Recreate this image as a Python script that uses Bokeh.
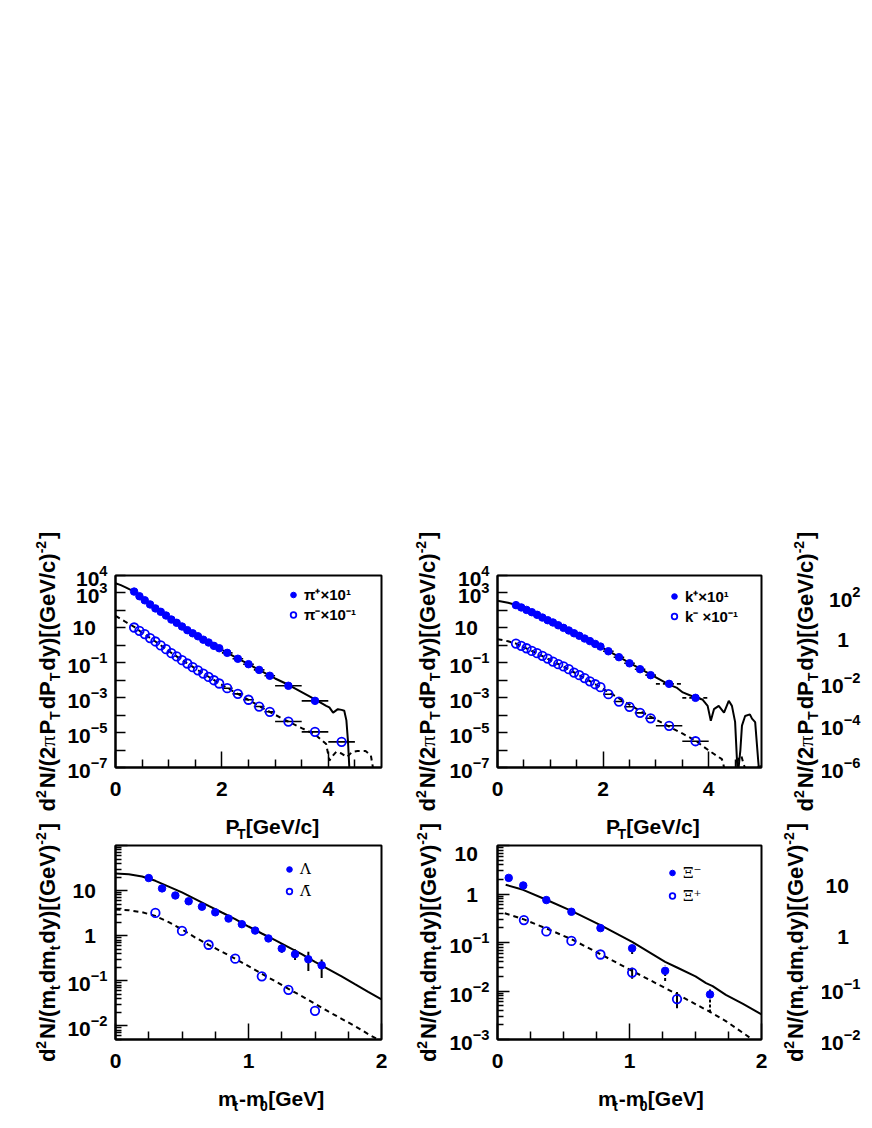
import math
from bokeh.plotting import figure
from bokeh.models import FixedTicker, Legend, LegendItem, Spacer
from bokeh.layouts import column, row
from bokeh.core.properties import value
from bokeh.embed import file_html
from bokeh.resources import INLINE

BLUE = "#0000ff"
SANS = "Liberation Sans"
SERIF = "Liberation Serif"
LEG_SERIF = "DejaVu Serif"
FSP = "\u2007"   # figure space: keeps plain labels left of the exponent column, as in the original

# ---------------------------------------------------------------- data
# pion / kaon pT bin centres [GeV/c] and half bin widths
pt_bins = [0.35, 0.45, 0.55, 0.65, 0.75, 0.85, 0.95, 1.05, 1.15, 1.25, 1.35, 1.45,
           1.55, 1.65, 1.75, 1.85, 1.95, 2.1, 2.3, 2.5, 2.7, 2.9, 3.25, 3.75]
pt_xerr = [0, 0, 0, 0, 0, 0, 0, 0, 0, 0, 0, 0, 0, 0, 0, 0, 0,
           0.1, 0.1, 0.1, 0.1, 0.1, 0.25, 0.25]
pim_bins = pt_bins + [4.25]
pim_xerr = pt_xerr + [0.25]

pip_y = [1.2e3, 650, 380, 220, 130, 83, 51, 30, 19.5, 12, 7.4, 4.9, 3.3, 2.1, 1.45,
         0.93, 0.68, 0.37, 0.17, 0.083, 0.039, 0.018, 0.0048, 6.6e-4]
pim_y = [10.5, 6.8, 4.4, 2.6, 1.66, 0.98, 0.60, 0.355, 0.23, 0.14, 0.091, 0.056, 0.037,
         0.024, 0.0155, 0.010, 0.0065, 0.0035, 0.00166, 7.6e-4, 3.1e-4, 1.55e-4, 4.3e-5,
         1.1e-5, 2.95e-6]
kp_y = [200, 148, 107, 79, 56, 39, 27.5, 20.4, 14.1, 10.0, 7.1, 4.9, 3.5, 2.45, 1.74,
        1.2, 0.85, 0.457, 0.209, 0.093, 0.0427, 0.0195, 0.0062, 9.8e-4]
km_y = [1.26, 0.93, 0.68, 0.48, 0.355, 0.25, 0.174, 0.117, 0.083, 0.062, 0.043, 0.0275,
        0.0195, 0.0132, 0.0087, 0.0059, 0.0040, 0.00158, 6.0e-4, 3.0e-4, 1.35e-4, 6.6e-5,
        2.45e-5, 3.2e-6]

# model curves, pions / kaons
pip_cx = [0, 0.1, 0.2, 0.35, 0.5, 0.75, 1.0, 1.25, 1.5, 1.75, 2.0, 2.25, 2.5, 2.75, 3.0,
          3.25, 3.5, 3.75, 3.96, 4.02, 4.09, 4.18, 4.25, 4.30, 4.34, 4.37, 4.40, 4.45]
pip_cy = [3.6e3, 2.8e3, 2.0e3, 1.2e3, 500, 132, 38, 11.7, 4.0, 1.41, 0.54, 0.21, 0.083,
          0.032, 0.0126, 0.0055, 0.0021, 7.9e-4, 3.4e-4, 2.8e-4, 1.4e-4, 2.2e-4, 2.0e-4,
          1.8e-4, 5.0e-5, 3.2e-6, 5e-8, 1e-9]
pim_cx = [0, 0.1, 0.2, 0.35, 0.5, 0.75, 1.0, 1.25, 1.5, 1.75, 2.0, 2.25, 2.5, 2.75, 3.0,
          3.25, 3.5, 3.75, 3.96, 4.02, 4.08, 4.15, 4.25, 4.35, 4.45, 4.55, 4.7, 4.8, 4.85, 4.9]
pim_cy = [49, 32, 21, 11.5, 5.2, 1.66, 0.47, 0.145, 0.047, 0.0158, 0.0054, 0.002, 7.6e-4,
          2.7e-4, 1.05e-4, 4.2e-5, 1.8e-5, 7.9e-6, 2.2e-6, 2.5e-7, 4.5e-7, 7.9e-7, 6.3e-7,
          4.0e-7, 7.9e-7, 8.9e-7, 8.9e-7, 5.0e-7, 6.3e-8, 1e-8]
kp_cx = [0, 0.1, 0.2, 0.35, 0.5, 0.75, 1.0, 1.25, 1.5, 1.75, 2.0, 2.25, 2.5, 2.75, 3.0,
         3.25, 3.39, 3.51, 3.70, 3.88, 3.98, 4.04, 4.10, 4.19, 4.29, 4.38, 4.44, 4.50,
         4.55, 4.60, 4.63, 4.69, 4.78, 4.82, 4.88, 4.94, 4.98]
kp_cy = [355, 316, 275, 204, 126, 56, 23.4, 9.8, 4.1, 1.66, 0.68, 0.263, 0.1, 0.038,
         0.0148, 0.0056, 0.0038, 0.002, 0.00117, 7.9e-4, 3.4e-4, 4.7e-5, 2.2e-4, 3.4e-4,
         1.4e-4, 6.6e-4, 3.4e-4, 4.1e-5, 3.2e-8, 1e-6, 2.5e-5, 8.9e-5, 1.1e-4, 6.3e-5,
         4.0e-5, 2.0e-7, 1e-8]
km_cx = [0, 0.1, 0.2, 0.35, 0.5, 0.75, 1.0, 1.25, 1.5, 1.75, 2.0, 2.25, 2.5, 2.75, 3.0,
         3.25, 3.5, 3.75, 3.88, 4.06, 4.25, 4.32, 4.40, 4.50, 4.57, 4.62, 4.66, 4.72, 4.80,
         4.90, 4.97, 5.0]
km_cy = [2.24, 2.0, 1.7, 1.26, 0.78, 0.34, 0.141, 0.060, 0.0234, 0.0089, 0.00316, 0.00112,
         4.0e-4, 1.4e-4, 5.6e-5, 2.2e-5, 8.9e-6, 3.5e-6, 1.74e-6, 7.2e-7, 3.0e-7, 5e-8,
         1e-8, 6.3e-8, 4.0e-7, 4.5e-7, 1.6e-7, 5e-8, 3e-9, 6.3e-8, 1.6e-7, 6.3e-8]

# Lambda / anti-Lambda  (mt - m0 [GeV])
lam_x = [0.25, 0.35, 0.45, 0.55, 0.65, 0.75, 0.85, 0.95, 1.05, 1.15, 1.25, 1.35, 1.45, 1.55]
lam_y = [19, 11.2, 7.8, 5.8, 4.4, 3.3, 2.4, 1.8, 1.3, 0.87, 0.52, 0.39, 0.30, 0.22]
lam_ex = [1.15, 1.25, 1.35, 1.45, 1.55]
lam_elo = [0.80, 0.42, 0.29, 0.166, 0.116]
lam_ehi = [0.95, 0.65, 0.50, 0.44, 0.295]
alam_x = [0.3, 0.5, 0.7, 0.9, 1.1, 1.3, 1.5]
alam_y = [3.2, 1.28, 0.63, 0.31, 0.126, 0.063, 0.0216]
lam_cx = [0, 0.1, 0.2, 0.3, 0.4, 0.5, 0.6, 0.7, 0.8, 0.9, 1.0, 1.1, 1.2, 1.3, 1.4, 1.5,
          1.6, 1.7, 1.8, 1.9, 2.0]
lam_cy = [23.9, 23.1, 20.6, 16.5, 12.3, 9.1, 6.5, 4.6, 3.27, 2.33, 1.6, 1.12, 0.80, 0.56,
          0.39, 0.264, 0.181, 0.125, 0.084, 0.057, 0.039]
alam_cy = [3.8, 3.67, 3.31, 2.75, 2.0, 1.38, 0.91, 0.63, 0.44, 0.31, 0.211, 0.143, 0.098,
           0.0665, 0.0457, 0.031, 0.0209, 0.0144, 0.0099, 0.0066, 0.0045]

# Xi- / anti-Xi+
xim_x = [0.085, 0.195, 0.37, 0.56, 0.78, 1.02, 1.27, 1.61]
xim_y = [2.15, 1.50, 0.75, 0.43, 0.198, 0.076, 0.026, 0.0085]
xim_ex = [1.02, 1.27, 1.61]
xim_elo = [0.058, 0.016, 0.0036]
xim_ehi = [0.092, 0.033, 0.0117]
axip_x = [0.20, 0.37, 0.56, 0.78, 1.02, 1.36]
axip_y = [0.29, 0.169, 0.108, 0.0566, 0.024, 0.0068]
axip_ex = [1.02, 1.36]
axip_elo = [0.0178, 0.0044]
axip_ehi = [0.030, 0.0095]
xim_cx = [0.062, 0.194, 0.37, 0.56, 0.78, 1.02, 1.27, 1.36, 1.5, 1.58, 1.63, 1.73, 1.86, 2.0]
xim_cy = [1.55, 1.22, 0.76, 0.45, 0.228, 0.103, 0.040, 0.0305, 0.020, 0.0145, 0.0126,
          0.0083, 0.0054, 0.0033]
axip_cx = [0.055, 0.2, 0.37, 0.56, 0.78, 1.02, 1.36, 1.61, 1.73, 1.91, 2.0]
axip_cy = [0.40, 0.30, 0.195, 0.117, 0.0575, 0.026, 0.0086, 0.0037, 0.0024, 0.0011, 0.0007]

# axis ranges
top_xrange, top_yrange = (0, 5), (1e-7, 1e4)
bot_xrange = (0, 2)
lam_yrange, xi_yrange, p6_yrange, p3_yrange = (0.005, 100), (0.001, 10), (0.01, 60), (1e-6, 1e3)

# axis titles (pieces: normal / sub / sup / greek symbol)
TOP_YLABEL = [("d", 'n'), ("2", 'sup'), ("N/(2", 'n'), ("π", 'sym'), ("P", 'n'), ("T", 'sub'),
              ("dP", 'n'), ("T", 'sub'), ("dy)[(GeV/c)", 'n'), ("-2", 'sup'), ("]", 'n')]
BOT_YLABEL = [("d", 'n'), ("2", 'sup'), ("N/(m", 'n'), ("t", 'sub'), ("dm", 'n'), ("t", 'sub'),
              ("dy)[(GeV)", 'n'), ("-2", 'sup'), ("]", 'n')]
TOP_XLABEL = [("P", 'n'), ("T", 'sub'), ("[GeV/c]", 'n')]
BOT_XLABEL = [("m", 'n'), ("t", 'sub'), ("-m", 'n'), ("0", 'sub'), ("[GeV]", 'n')]

# ---------------------------------------------------------------- helpers
ARIAL_B = {' ': 278, '(': 333, ')': 333, '[': 333, ']': 333, '/': 278, '-': 333,
           'G': 778, 'N': 722, 'P': 667, 'T': 611, 'V': 667, 'c': 556, 'd': 611,
           'e': 556, 'm': 889, 't': 333, 'y': 556}
SS = 14   # sub/superscript size


def piece_width(text, kind, ts):
    if kind == 'sym':
        return 0.55 * ts * len(text)
    size = ts if kind == 'n' else SS
    w = sum(ARIAL_B.get(ch, 556) for ch in text) * size / 1000.0
    return w + (2.0 if kind in ('sub', 'sup') else 0.0)


def text_fig(w, h):
    p = figure(width=w, height=h, x_range=(0, w), y_range=(0, h), output_backend="svg",
               toolbar_location=None, x_axis_location=None, y_axis_location=None,
               min_border_left=0, min_border_right=0, min_border_top=0, min_border_bottom=0)
    p.grid.visible = False
    p.outline_line_color = None
    p.background_fill_color = "white"
    p.border_fill_color = "white"
    return p


def rich_text(p, pieces, bx, by, vertical, ts):
    total = sum(piece_width(t, k, ts) for t, k in pieces)
    cum = -total / 2.0
    for text, kind in pieces:
        shift = {'n': 0, 'sym': 0, 'sub': -7, 'sup': 7}[kind]
        size = ts if kind in ('n', 'sym') else SS
        font = SERIF if kind == 'sym' else SANS
        fstyle = 'normal' if kind == 'sym' else 'bold'
        if vertical:
            x, y, ang = bx - shift, by + cum, math.pi / 2
        else:
            x, y, ang = bx + cum, by + shift, 0
        p.text(x=[x], y=[y], text=[text], angle=ang, text_font=value(font),
               text_font_size=f"{size}px", text_font_style=fstyle, text_align="left",
               text_baseline="alphabetic", text_color="black")
        cum += piece_width(text, kind, ts)


def ylabel_fig(w, h, pieces, bx, cy):
    p = text_fig(w, h)
    rich_text(p, pieces, bx, cy, True, 22)
    return p


def xlabel_fig(w, h, pieces, cx, by):
    p = text_fig(w, h)
    rich_text(p, pieces, cx, by, False, 21)
    return p


def base_fig(width, height, xr, yr, bl, br, bt, bb):
    p = figure(width=width, height=height, x_range=xr, y_range=yr, y_axis_type="log",
               output_backend="svg", toolbar_location=None,
               min_border_left=bl, min_border_right=br, min_border_top=bt, min_border_bottom=bb)
    p.grid.visible = False
    p.outline_line_color = "black"
    p.outline_line_width = 2
    p.background_fill_color = "white"
    p.border_fill_color = "white"
    return p


def decades(lo, hi):
    return [10.0 ** k for k in range(lo, hi + 1)]


def minors(lo, hi):
    return [m * 10.0 ** k for k in range(lo, hi + 1) for m in range(2, 10)]


def style_axes(p, xt, xm, yt, ym, ylong, yshort, overrides, ystand=8):
    p.xaxis.ticker = FixedTicker(ticks=xt, minor_ticks=xm)
    p.yaxis.ticker = FixedTicker(ticks=yt, minor_ticks=ym)
    for ax in list(p.xaxis) + list(p.yaxis):
        ax.axis_line_width = 2
        ax.major_tick_out = 0
        ax.minor_tick_out = 0
        ax.major_tick_line_width = 1.5
        ax.minor_tick_line_width = 1.5
        ax.major_label_text_font = SANS
        ax.major_label_text_font_style = "bold"
        ax.major_label_text_font_size = "21px"
        ax.major_label_text_color = "black"
    p.xaxis.major_tick_in = 16
    p.xaxis.minor_tick_in = 8
    p.xaxis.major_label_standoff = 14
    p.yaxis.major_tick_in = ylong
    p.yaxis.minor_tick_in = yshort
    p.yaxis.major_label_standoff = ystand
    p.yaxis.major_label_overrides = overrides


def hbars(p, x, y, xerr, dash="solid"):
    sel = [(a, b, e) for a, b, e in zip(x, y, xerr) if e > 0]
    p.segment([a - e for a, b, e in sel], [b for a, b, e in sel],
              [a + e for a, b, e in sel], [b for a, b, e in sel],
              line_color="black", line_width=1.6, line_dash=dash)


def vbars(p, x, lo, hi, dash="solid"):
    p.segment(x, lo, x, hi, line_color="black", line_width=2, line_dash=dash)


def filled(p, x, y):
    return p.scatter(x, y, marker="circle", size=7.5, fill_color=BLUE, line_color=BLUE)


def opened(p, x, y):
    return p.scatter(x, y, marker="circle", size=8.5, fill_color=None, line_color=BLUE,
                     line_width=1.8)


def add_legend(p, items, loc, font, size, fstyle, row_h):
    lg = Legend(items=[LegendItem(label=t, renderers=[r]) for t, r in items], location=loc,
                border_line_color=None, background_fill_alpha=0, padding=0, margin=0,
                spacing=0, glyph_width=14, glyph_height=row_h, label_height=row_h,
                label_standoff=4, label_text_font=font, label_text_font_size=size,
                label_text_font_style=fstyle, label_text_color="black")
    p.add_layout(lg)


STUB_W = 34


def stub_fig(height, yr, bt, bb, ticks, overrides):
    p = base_fig(STUB_W, height, (0, 1), yr, STUB_W - 6, 0, bt, bb)
    style_axes(p, [], [], ticks, [], 0, 0, overrides, ystand=-4)
    p.xaxis.visible = False
    p.yaxis.axis_line_color = None
    p.yaxis.major_tick_line_color = None
    p.yaxis.minor_tick_line_color = None
    p.outline_line_color = None
    return p


TOP_OVR = {10.0 ** 1: "10" + FSP, 10.0 ** 2: "", 10.0 ** 0: "", 10.0 ** -2: "",
           10.0 ** -4: "", 10.0 ** -6: ""}
SOLID_W, DASH = 2, "5 4"
TOP_H, STRIP_H, BOT_H, MT_H = 295, 34, 238, 33
YT_H, YB_H = 305, 295
TB, BT = 40, 4   # bottom border of all panels, top border of lower panels

# ---------------------------------------------------------------- panel 1 : pions
f1 = base_fig(323, TOP_H, top_xrange, top_yrange, 48, 6, 63, TB)
style_axes(f1, [0, 2, 4], [0.5, 1, 1.5, 2.5, 3, 3.5, 4.5], decades(-7, 4), [], 10, 5, TOP_OVR)
f1.line(pip_cx, pip_cy, line_color="black", line_width=SOLID_W)
f1.line(pim_cx, pim_cy, line_color="black", line_width=SOLID_W, line_dash=DASH)
hbars(f1, pt_bins, pip_y, pt_xerr)
hbars(f1, pim_bins, pim_y, pim_xerr)
r1 = filled(f1, pt_bins, pip_y)
r2 = opened(f1, pim_bins, pim_y)
add_legend(f1, [("π⁺×10¹", r1), ("π⁻×10⁻¹", r2)], (171, 143), SANS, "15px", "bold", 17)

# ---------------------------------------------------------------- panel 2 : kaons
f2 = base_fig(322, TOP_H, top_xrange, top_yrange, 47, 6, 63, TB)
style_axes(f2, [0, 2, 4], [0.5, 1, 1.5, 2.5, 3, 3.5, 4.5], decades(-7, 4), [], 10, 5, TOP_OVR)
f2.line(kp_cx, kp_cy, line_color="black", line_width=SOLID_W)
f2.line(km_cx, km_cy, line_color="black", line_width=SOLID_W, line_dash=DASH)
hbars(f2, pt_bins, kp_y, pt_xerr, dash="4 3")
hbars(f2, pt_bins, km_y, pt_xerr)
r3 = filled(f2, pt_bins, kp_y)
r4 = opened(f2, pt_bins, km_y)
add_legend(f2, [("k⁺×10¹", r3), ("k⁻ ×10⁻¹", r4)], (170, 141), SANS, "15px", "bold", 18)

# ---------------------------------------------------------------- panel 3 : cut off at the edge
f3 = stub_fig(TOP_H, p3_yrange, 63, TB, [1e-6, 1e-4, 1e-2, 1.0, 1e2], {1.0: "1" + FSP})

# ---------------------------------------------------------------- panel 4 : Lambda
f4 = base_fig(323, BOT_H, bot_xrange, lam_yrange, 49, 6, BT, TB)
style_axes(f4, [0, 1, 2], [0.25, 0.5, 0.75, 1.25, 1.5, 1.75], decades(-2, 2), minors(-3, 1),
           12, 6, {1.0: "1" + FSP, 10.0: "10" + FSP, 100.0: ""})
f4.line(lam_cx, lam_cy, line_color="black", line_width=SOLID_W)
f4.line(lam_cx, alam_cy, line_color="black", line_width=SOLID_W, line_dash=DASH)
vbars(f4, lam_ex, lam_elo, lam_ehi)
r5 = filled(f4, lam_x, lam_y)
r6 = opened(f4, alam_x, alam_y)
add_legend(f4, [("Λ", r5), ("Λ̄", r6)], (167, 137), LEG_SERIF, "15px", "normal", 22)

# ---------------------------------------------------------------- panel 5 : Xi
f5 = base_fig(322, BOT_H, bot_xrange, xi_yrange, 47, 7, BT, TB)
style_axes(f5, [0, 1, 2], [0.25, 0.5, 0.75, 1.25, 1.5, 1.75], decades(-3, 1), minors(-3, 0),
           12, 6, {1.0: "1" + FSP, 10.0: "10" + FSP})
f5.line(xim_cx, xim_cy, line_color="black", line_width=SOLID_W)
f5.line(axip_cx, axip_cy, line_color="black", line_width=SOLID_W, line_dash=DASH)
vbars(f5, xim_ex, xim_elo, xim_ehi, dash="3 2")
vbars(f5, axip_ex, axip_elo, axip_ehi)
r7 = filled(f5, xim_x, xim_y)
r8 = opened(f5, axip_x, axip_y)
add_legend(f5, [("Ξ⁻", r7), ("Ξ̄⁺", r8)], (168, 132), LEG_SERIF, "15px", "normal", 23)

# ---------------------------------------------------------------- panel 6 : cut off at the edge
f6 = stub_fig(BOT_H, p6_yrange, BT, TB, decades(-2, 1), {1.0: "1" + FSP, 10.0: "10" + FSP})

# ---------------------------------------------------------------- axis titles + layout
colA = column(ylabel_fig(64, YT_H, TOP_YLABEL, 47, 146), ylabel_fig(64, YB_H, BOT_YLABEL, 47, 170))
colB = column(f1, xlabel_fig(323, STRIP_H, TOP_XLABEL, 182.5, 15), f4,
              xlabel_fig(323, MT_H, BOT_XLABEL, 183, 14))
colC = column(ylabel_fig(59, YT_H, TOP_YLABEL, 40, 146), ylabel_fig(59, YB_H, BOT_YLABEL, 41, 170))
colD = column(f2, xlabel_fig(322, STRIP_H, TOP_XLABEL, 181.5, 15), f5,
              xlabel_fig(322, MT_H, BOT_XLABEL, 181, 14))
colE = column(ylabel_fig(54, YT_H, TOP_YLABEL, 37, 146), ylabel_fig(54, YB_H, BOT_YLABEL, 27, 170))
colF = column(f3, Spacer(width=STUB_W, height=STRIP_H), f6, Spacer(width=STUB_W, height=MT_H))

layout = column(Spacer(width=856, height=512), row(colA, colB, colC, colD, colE, colF))

with open("out.html", "w") as fh:
    fh.write(file_html(layout, INLINE))
